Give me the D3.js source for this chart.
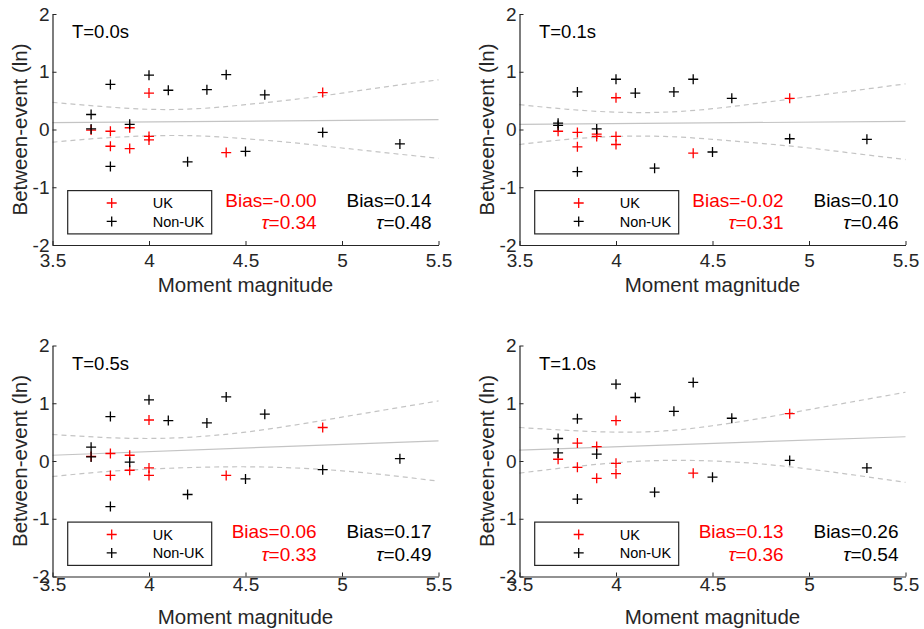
<!DOCTYPE html>
<html>
<head>
<meta charset="utf-8">
<script src="https://cdn.jsdelivr.net/npm/d3@7"></script>
<style>
  html, body { margin: 0; padding: 0; background: #fff; }
  svg { display: block; font-family: "Liberation Sans", Arial, Helvetica, sans-serif; }
</style>
</head>
<body>
<script>
// Spectral periods shown in the four panels
const periods = ["0.0", "0.1", "0.5", "1.0"];

// Event magnitudes (same events at every period)
const ukMag    = [3.7, 3.8, 3.8, 3.9, 3.9, 4.0, 4.0, 4.0, 4.4, 4.9];
const nonUkMag = [3.7, 3.7, 3.8, 3.8, 3.9, 4.0, 4.1, 4.2, 4.3, 4.4, 4.5, 4.6, 4.9, 5.3];

// Between-event residuals, UK events
const ukT00 = [-0.01, -0.03, -0.29, 0.03, -0.33, 0.63, -0.12, -0.18, -0.40, 0.64];
const ukT01 = [-0.03, -0.05, -0.30, -0.08, -0.12, 0.55, -0.12, -0.26, -0.41, 0.54];
const ukT05 = [0.08, 0.13, -0.25, 0.10, -0.16, 0.71, -0.12, -0.25, -0.25, 0.58];
const ukT10 = [0.03, 0.31, -0.11, 0.25, -0.30, 0.70, -0.04, -0.22, -0.21, 0.82];

// Between-event residuals, non-UK events
const nonUkT00 = [0.26, 0.01, 0.78, -0.64, 0.09, 0.94, 0.68, -0.56, 0.69, 0.95, -0.38, 0.60, -0.05, -0.25];
const nonUkT01 = [0.11, 0.07, 0.65, -0.73, 0.01, 0.87, 0.63, -0.67, 0.65, 0.87, -0.39, 0.54, -0.16, -0.17];
const nonUkT05 = [0.24, 0.07, 0.77, -0.79, -0.02, 1.06, 0.70, -0.58, 0.66, 1.11, -0.31, 0.81, -0.15, 0.04];
const nonUkT10 = [0.39, 0.14, 0.73, -0.66, 0.12, 1.33, 1.10, -0.54, 0.86, 1.36, -0.28, 0.74, 0.01, -0.12];

// Linear trend against magnitude (end points) and its confidence limits
const fitMag = [3.5, 5.5];
const fitT00 = [0.12, 0.17];
const fitT01 = [0.09, 0.14];
const fitT05 = [0.10, 0.35];
const fitT10 = [0.19, 0.42];

const bandMag  = [3.5, 3.75, 4.0, 4.25, 4.5, 4.75, 5.0, 5.25, 5.5];
const upperT00 = [0.47, 0.40, 0.35, 0.36, 0.43, 0.52, 0.63, 0.75, 0.86];
const lowerT00 = [-0.22, -0.15, -0.11, -0.11, -0.16, -0.23, -0.32, -0.41, -0.50];
const upperT01 = [0.43, 0.35, 0.30, 0.30, 0.36, 0.46, 0.57, 0.68, 0.79];
const lowerT01 = [-0.26, -0.17, -0.12, -0.12, -0.17, -0.24, -0.32, -0.42, -0.52];
const upperT05 = [0.46, 0.41, 0.39, 0.42, 0.50, 0.62, 0.76, 0.90, 1.04];
const lowerT05 = [-0.27, -0.19, -0.14, -0.11, -0.10, -0.12, -0.17, -0.25, -0.35];
const upperT10 = [0.58, 0.53, 0.50, 0.52, 0.61, 0.74, 0.89, 1.04, 1.19];
const lowerT10 = [-0.21, -0.11, -0.03, 0.01, 0.00, -0.05, -0.14, -0.25, -0.37];

// Summary statistics printed in each panel
const ukBias    = ["-0.00", "-0.02", "0.06", "0.13"];
const ukTau     = ["0.34", "0.31", "0.33", "0.36"];
const nonUkBias = ["0.14", "0.10", "0.17", "0.26"];
const nonUkTau  = ["0.48", "0.46", "0.49", "0.54"];

// Axis ticks
const xTicks = [3.5, 4, 4.5, 5, 5.5];
const xTickLabels = ["3.5", "4", "4.5", "5", "5.5"];
const yTicks = [-2, -1, 0, 1, 2];
const yTickLabels = ["-2", "-1", "0", "1", "2"];

const ukSeries    = [ukT00, ukT01, ukT05, ukT10];
const nonUkSeries = [nonUkT00, nonUkT01, nonUkT05, nonUkT10];
const fitSeries   = [fitT00, fitT01, fitT05, fitT10];
const upperSeries = [upperT00, upperT01, upperT05, upperT10];
const lowerSeries = [lowerT00, lowerT01, lowerT05, lowerT10];

const AXIS = "#262626";
const RED = "#ff0000";
const GREY = "#c4c4c4";

const W = 924, H = 629;
const colLeft = [52.5, 519.5];
const rowTop = [14, 345.5];
const rowTickPad = [9, 1];   // gap between x axis and its tick labels, per row
const plotW = 386, plotH = 231;

const svg = d3.select("body").append("svg")
  .attr("width", W).attr("height", H)
  .attr("viewBox", `0 0 ${W} ${H}`);

svg.append("rect").attr("width", W).attr("height", H).attr("fill", "#fff");

function plus(cx, cy, r) {
  return `M${cx - r},${cy}H${cx + r}M${cx},${cy - r}V${cy + r}`;
}

periods.forEach((period, i) => {
  const row = Math.floor(i / 2);
  const x0 = colLeft[i % 2], y0 = rowTop[row];
  const x1 = x0 + plotW, y1 = y0 + plotH;

  const x = d3.scaleLinear().domain([3.5, 5.5]).range([x0, x1]);
  const y = d3.scaleLinear().domain([-2, 2]).range([y1, y0]);

  const g = svg.append("g");

  // confidence limits (dashed) and trend line (solid)
  const band = d3.line()
    .x(d => x(d[0])).y(d => y(d[1]))
    .curve(d3.curveNatural);
  [upperSeries[i], lowerSeries[i]].forEach(vals => {
    g.append("path")
      .attr("d", band(bandMag.map((m, k) => [m, vals[k]])))
      .attr("fill", "none")
      .attr("stroke", GREY)
      .attr("stroke-width", 1.2)
      .attr("stroke-dasharray", "5,4");
  });
  g.append("path")
    .attr("d", d3.line().x(d => x(d[0])).y(d => y(d[1]))(fitMag.map((m, k) => [m, fitSeries[i][k]])))
    .attr("fill", "none")
    .attr("stroke", GREY)
    .attr("stroke-width", 1.2);

  // UK events
  g.append("g").selectAll("path")
    .data(ukMag.map((m, k) => [m, ukSeries[i][k]]))
    .join("path")
    .attr("d", d => plus(x(d[0]), y(d[1]), 5))
    .attr("stroke", RED).attr("stroke-width", 1.3).attr("fill", "none");

  // non-UK events
  g.append("g").selectAll("path")
    .data(nonUkMag.map((m, k) => [m, nonUkSeries[i][k]]))
    .join("path")
    .attr("d", d => plus(x(d[0]), y(d[1]), 5))
    .attr("stroke", "#000").attr("stroke-width", 1.3).attr("fill", "none");

  // axes (ticks point inward)
  const xAxis = d3.axisBottom(x)
    .tickValues(xTicks)
    .tickFormat((d, k) => xTickLabels[k])
    .tickSizeInner(-4).tickSizeOuter(0).tickPadding(rowTickPad[row]);
  const yAxis = d3.axisLeft(y)
    .tickValues(yTicks)
    .tickFormat((d, k) => yTickLabels[k])
    .tickSizeInner(-4).tickSizeOuter(0).tickPadding(3);

  const gx = g.append("g").attr("transform", `translate(0,${y1})`).call(xAxis);
  const gy = g.append("g").attr("transform", `translate(${x0},0)`).call(yAxis);
  [gx, gy].forEach(a => {
    a.select(".domain").attr("stroke", AXIS).attr("stroke-width", 1.2);
    a.selectAll(".tick line").attr("stroke", AXIS).attr("stroke-width", 1);
    a.selectAll(".tick text")
      .attr("fill", AXIS)
      .style("font-family", "'Liberation Sans', Arial, sans-serif")
      .style("font-size", "19px");
  });

  // axis titles
  g.append("text")
    .attr("x", (x0 + x1) / 2).attr("y", y1 + 47)
    .attr("text-anchor", "middle")
    .attr("fill", AXIS)
    .style("font-size", "20.5px")
    .text("Moment magnitude");
  g.append("text")
    .attr("transform", `translate(${x0 - 26},${(y0 + y1) / 2}) rotate(-90)`)
    .attr("text-anchor", "middle")
    .attr("fill", AXIS)
    .style("font-size", "20.5px")
    .text("Between-event (ln)");

  // period label
  g.append("text")
    .attr("x", x0 + 19.5).attr("y", y0 + 24)
    .attr("fill", "#000")
    .style("font-size", "18.5px")
    .text(`T=${period}s`);

  // legend
  const lx = x0 + 15.2;
  g.append("rect")
    .attr("x", lx).attr("y", y1 - 54.4)
    .attr("width", 144).attr("height", 43.3)
    .attr("fill", "#fff")
    .attr("stroke", AXIS).attr("stroke-width", 1.2);
  const legendItems = [["UK", RED, -42], ["Non-UK", "#000", -23.6]];
  legendItems.forEach(([label, color, dy]) => {
    g.append("path")
      .attr("d", plus(x0 + 59.2, y1 + dy, 5))
      .attr("stroke", color).attr("stroke-width", 1.3).attr("fill", "none");
    g.append("text")
      .attr("x", x0 + 100.2).attr("y", y1 + dy + 5.2)
      .attr("fill", "#000")
      .style("font-size", "14.5px")
      .text(label);
  });

  // bias and tau annotations
  const stats = [
    [x1 - 121.8, RED, ukBias[i], ukTau[i]],
    [x1 - 7, "#000", nonUkBias[i], nonUkTau[i]]
  ];
  stats.forEach(([tx, color, bias, tau]) => {
    g.append("text")
      .attr("x", tx).attr("y", y1 - 38.3)
      .attr("text-anchor", "end")
      .attr("fill", color)
      .style("font-size", "19px")
      .text(`Bias=${bias}`);
    const t = g.append("text")
      .attr("x", tx).attr("y", y1 - 15.7)
      .attr("text-anchor", "end")
      .attr("fill", color)
      .style("font-size", "19px");
    t.append("tspan").style("font-style", "italic").text("τ");
    t.append("tspan").text(`=${tau}`);
  });
});
</script>
</body>
</html>
